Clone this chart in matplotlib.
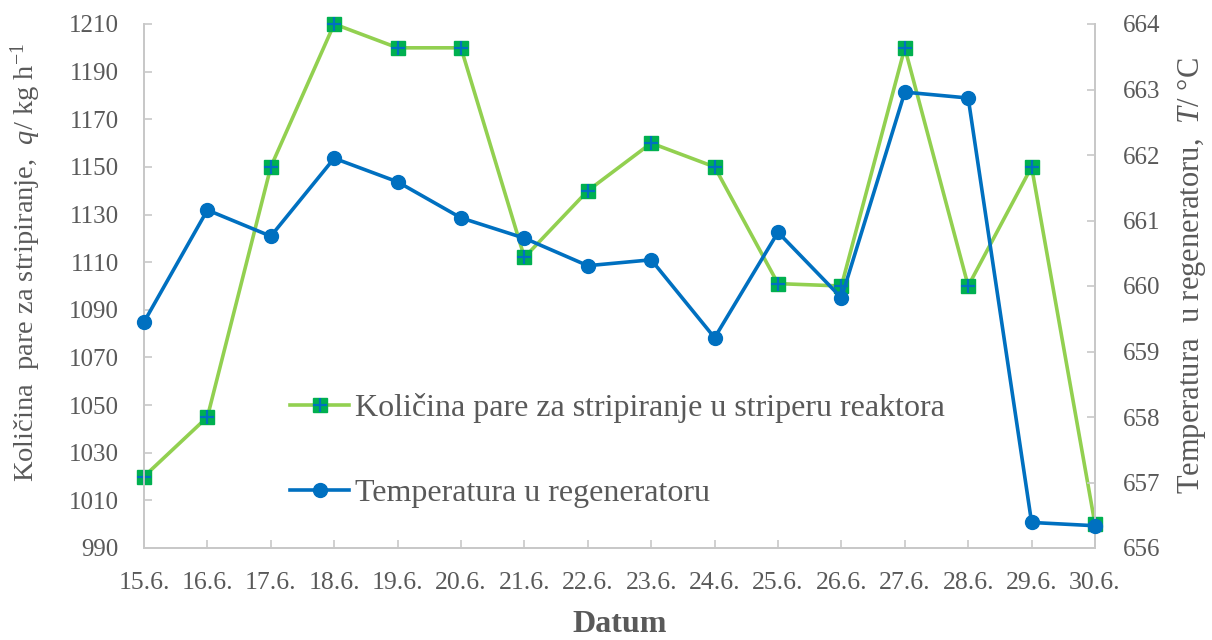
import matplotlib
matplotlib.use("Agg")
import matplotlib.pyplot as plt
from matplotlib.legend_handler import HandlerTuple

plt.rcParams['font.family'] = ['Liberation Serif', 'DejaVu Serif']
plt.rcParams['mathtext.fontset'] = 'custom'
plt.rcParams['mathtext.rm'] = 'Liberation Serif'
plt.rcParams['mathtext.it'] = 'Liberation Serif:italic'

dates = ['15.6.', '16.6.', '17.6.', '18.6.', '19.6.', '20.6.', '21.6.', '22.6.',
         '23.6.', '24.6.', '25.6.', '26.6.', '27.6.', '28.6.', '29.6.', '30.6.']
steam = [1020, 1045, 1150, 1210, 1200, 1200, 1112, 1140,
         1160, 1150, 1101, 1100, 1200, 1100, 1150, 1000]
temperature = [659.45, 661.16, 660.76, 661.95, 661.59, 661.04, 660.73, 660.31,
               660.40, 659.21, 660.82, 659.82, 662.96, 662.87, 656.39, 656.34]
left_ticks = list(range(990, 1211, 20))
right_ticks = list(range(656, 665))

label_steam = 'Količina pare za stripiranje u striperu reaktora'
label_temp = 'Temperatura u regeneratoru'

GREEN_LINE = '#92D050'
GREEN_MARK = '#00B050'
BLUE = '#0070C0'
TEXT = '#595959'
SPINE = '#C8C8C8'

fig = plt.figure(figsize=(12.12, 6.4), dpi=100)
ax = fig.add_axes([144 / 1212, 1 - 548 / 640, (1095 - 144) / 1212, (548 - 24) / 640])
ax2 = ax.twinx()

x = list(range(len(dates)))

g_line, = ax.plot(x, steam, color=GREEN_LINE, lw=2.6, marker='s', ms=10,
                  mfc=GREEN_MARK, mec=GREEN_MARK, zorder=3, clip_on=False)
g_plus, = ax.plot(x, steam, ls='none', marker='+', ms=10, mew=1.6,
                  mec=BLUE, zorder=4, clip_on=False)
b_line, = ax2.plot(x, temperature, color=BLUE, lw=2.6, marker='o', ms=10,
                   mfc=BLUE, mec=BLUE, zorder=3, clip_on=False)

ax.set_xlim(0, len(dates) - 1)
ax.set_ylim(990, 1210)
ax2.set_ylim(656, 664)
ax.set_yticks(left_ticks)
ax2.set_yticks(right_ticks)
ax.set_xticks(x)
ax.set_xticklabels(dates)

for a in (ax, ax2):
    a.spines['top'].set_visible(False)
    for side in ('left', 'right', 'bottom'):
        a.spines[side].set_color(SPINE)
        a.spines[side].set_linewidth(1.3)
ax.tick_params(axis='y', direction='in', length=6, color=SPINE, width=1.2,
               labelsize=18, labelcolor=TEXT, pad=18)
ax.tick_params(axis='x', direction='in', length=6, color=SPINE, width=1.2,
               labelsize=18.5, labelcolor=TEXT, pad=17)
ax2.tick_params(axis='y', direction='in', length=6, color=SPINE, width=1.2,
                labelsize=18, labelcolor=TEXT, pad=20)

ax.set_xlabel('Datum', fontsize=23, fontweight='bold', color=TEXT, labelpad=12)
ax.set_ylabel(r'Količina  pare za stripiranje,  $q$/ kg h$^{-1}$',
              fontsize=20.5, color=TEXT)
ax.yaxis.set_label_coords(-0.106, 0.545)
ax2.set_ylabel(r'Temperatura  u regeneratoru,  $T$/ °C',
               fontsize=22, color=TEXT)
ax2.yaxis.set_label_coords(1.084, 0.52)

leg = ax.legend([(g_line, g_plus), b_line], [label_steam, label_temp],
                handler_map={tuple: HandlerTuple(ndivide=1, pad=0)},
                loc='upper left', bbox_to_anchor=(0.1535, 0.296),
                frameon=False, fontsize=23, labelspacing=1.75,
                handlelength=1.85, handletextpad=0.2, borderpad=0,
                borderaxespad=0)
for t in leg.get_texts():
    t.set_color(TEXT)

fig.savefig('out.png', dpi=100)
